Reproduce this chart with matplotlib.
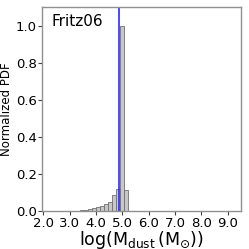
import matplotlib
matplotlib.use("Agg")
import matplotlib.pyplot as plt

bin_left = [2.2, 2.35, 2.5, 2.65, 2.8, 2.95, 3.1, 3.25, 3.4, 3.55, 3.7, 3.85, 4.0, 4.15, 4.3, 4.45, 4.6, 4.75, 4.9, 5.05, 5.2, 5.35, 5.5, 5.65]
heights = [0.001, 0.001, 0.001, 0.001, 0.002, 0.002, 0.002, 0.003, 0.004, 0.006, 0.01, 0.015, 0.02, 0.028, 0.037, 0.048, 0.087, 0.119, 1.0, 0.113, 0.002, 0.001, 0.001, 0.001]
bin_width = 0.15
best_value = 4.86
label = "Fritz06"
xticks = [2.0, 3.0, 4.0, 5.0, 6.0, 7.0, 8.0, 9.0]
yticks = [0.0, 0.2, 0.4, 0.6, 0.8, 1.0]

fig = plt.figure(figsize=(2.49, 2.49), dpi=100)
ax = fig.add_axes([0.17, 0.152, 0.798, 0.82])
ax.bar(bin_left, heights, width=bin_width, align='edge', color='#c8c8c8', edgecolor='#707070', linewidth=0.6)
ax.axvline(best_value, color='#2a2aff', linewidth=1.2)
ax.set_xlim(1.97, 9.5)
ax.set_ylim(0, 1.1)
ax.set_xticks(xticks)
ax.set_xticklabels([f"{t:.1f}" for t in xticks])
ax.set_yticks(yticks)
ax.set_yticklabels([f"{t:.1f}" for t in yticks])
ax.tick_params(labelsize=9.5, length=3, width=0.8, color='#404040', pad=1)
for s in ax.spines.values():
    s.set_color('#909090')
    s.set_linewidth(1.0)
ax.set_xlabel(r"$\log(\mathrm{M_{dust}\,(M_{\odot})})$", fontsize=12.5)
ax.xaxis.set_label_coords(0.5, -0.085)
ax.set_ylabel("Normalized PDF", fontsize=8.5, labelpad=2)
ax.text(0.045, 0.965, label, transform=ax.transAxes, fontsize=11, va='top', ha='left')
fig.savefig("out.png", dpi=100)
